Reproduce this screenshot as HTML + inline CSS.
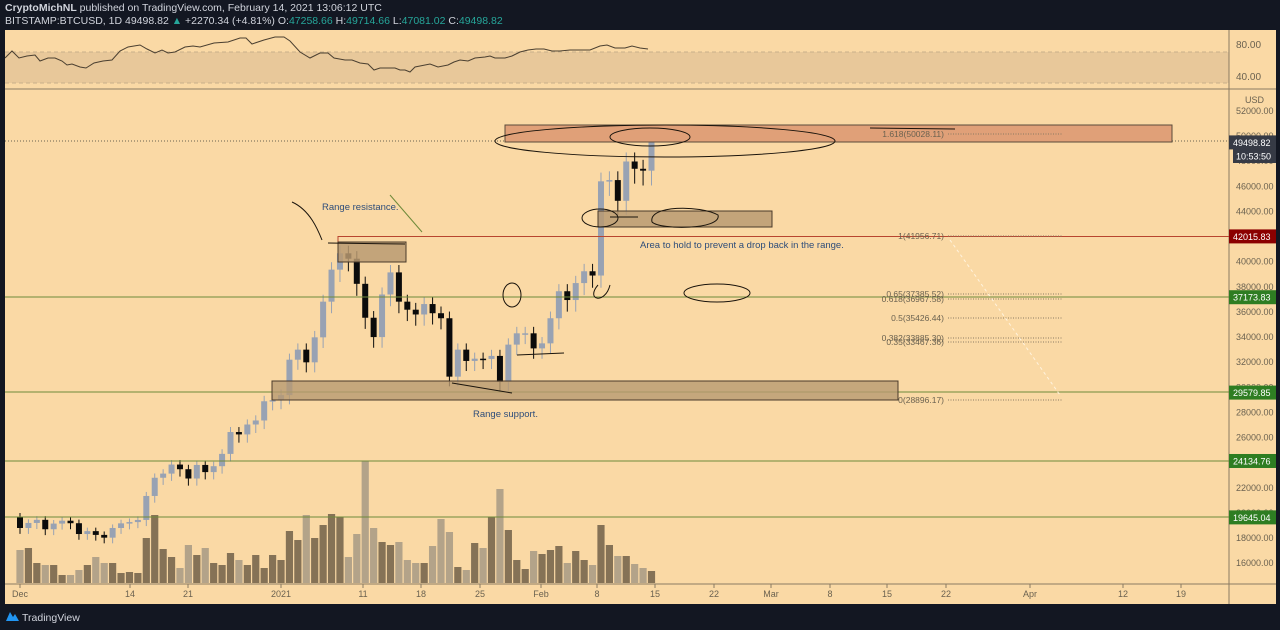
<!DOCTYPE html>
<html><head><meta charset="utf-8"><style>
html,body{margin:0;padding:0;background:#131722;width:1280px;height:630px;overflow:hidden;font-family:"Liberation Sans",sans-serif}
svg{display:block}
</style></head><body>
<svg id="s" width="1280" height="630" xmlns="http://www.w3.org/2000/svg" font-family="Liberation Sans, sans-serif">
<rect x="0" y="0" width="1280" height="630" fill="#131722"/>
<rect x="5" y="30" width="1271" height="574" fill="#fad9a5"/>
<text x="5" y="11" font-size="10.5" fill="#d1d4dc"><tspan font-weight="bold">CryptoMichNL</tspan> published on TradingView.com, February 14, 2021 13:06:12 UTC</text>
<text x="5" y="24" font-size="10.5" fill="#d1d4dc">BITSTAMP:BTCUSD, 1D 49498.82 <tspan fill="#26a69a">▲</tspan> +2270.34 (+4.81%) O:<tspan fill="#26a69a">47258.66</tspan> H:<tspan fill="#26a69a">49714.66</tspan> L:<tspan fill="#26a69a">47081.02</tspan> C:<tspan fill="#26a69a">49498.82</tspan></text>
<rect x="5" y="52" width="1224" height="31" fill="#e8c89a"/>
<line x1="5" y1="52" x2="1229" y2="52" stroke="#c8b08a" stroke-dasharray="4,3"/>
<line x1="5" y1="83" x2="1229" y2="83" stroke="#c8b08a" stroke-dasharray="4,3"/>
<line x1="5" y1="89" x2="1276" y2="89" stroke="#8a7a62" stroke-width="1"/>
<text x="1236" y="48" font-size="10" fill="#6b6250">80.00</text>
<text x="1236" y="80" font-size="10" fill="#6b6250">40.00</text>
<polyline fill="none" stroke="#4a3f30" stroke-width="1" points="5,58 12,51 19,58 27,56 35,55 40,61 48,58 55,58 62,61 67,65 72,64 80,67 86,68 94,63 103,61 112,60 120,51 128,47 140,45 147,49 155,53 162,50 168,53 175,52 185,47 193,46 200,47 214,43 228,42 240,38 246,38 252,44 264,40 275,37 284,37 290,41 300,52 310,58 320,53 328,53 334,58 345,60 352,60 360,63 368,64 374,70 380,68 395,68 400,70 405,70 410,72 415,67 430,64 438,67 448,65 454,62 460,60 468,61 475,58 485,57 490,56 495,58 505,58 512,56 520,52 528,50 536,49 544,49 552,51 560,51 570,50 580,50 590,50 600,46 607,45 615,48 625,48 632,46 640,48 648,49"/>
<line x1="1229" y1="30" x2="1229" y2="604" stroke="#8a7a62"/>
<line x1="5" y1="584" x2="1276" y2="584" stroke="#8a7a62"/>
<g id="g"></g>
<rect x="0" y="604" width="1280" height="26" fill="#131722"/>
<path d="M6 621 L10 612 L13 617 L15 614 L19 621 Z" fill="#2196f3"/>
<text x="22" y="621" font-size="10.5" fill="#d1d4dc">TradingView</text>
</svg>
<script>
const g=document.getElementById('g');let h='';
const Y=p=>111+(52000-p)*0.01256, X=d=>20+d*8.42;
const C=[19700,18800,19200,19450,18700,19150,19380,19180,18320,18550,18250,18030,18800,19170,19270,19440,21350,22800,23130,23850,23480,22740,23820,23250,23720,24700,26440,26250,27040,27360,28890,28980,29380,32200,33000,31990,33980,36820,39370,40670,40240,38240,35540,34000,37390,39150,36820,36180,35800,36630,35900,35500,30850,33000,32100,32280,32260,32500,30430,33400,34300,34300,33100,33500,35500,37650,36950,38300,39240,38900,46400,46500,44850,47980,47400,47250,49500];
const V=[33,35,20,18,18,8,8,13,18,26,20,20,10,11,10,45,68,34,26,15,38,28,35,20,18,30,23,18,28,15,28,23,52,43,68,45,58,69,66,26,49,122,55,41,38,41,23,20,20,37,64,51,16,13,40,35,66,94,53,23,14,32,29,33,37,20,32,23,18,58,38,27,27,19,15,12];
for(let d=0;d<76;d++){const o=C[d],c=C[d+1],x=X(d),up=c>=o;
 const hi=Math.max(o,c)*1.015,lo=Math.min(o,c)*0.975;
 const col=up?'#98a2b3':'#0b0b0b';
 h+=`<line x1="${x}" y1="${Y(hi)}" x2="${x}" y2="${Y(lo)}" stroke="${col}"/>`;
 const y1=Y(Math.max(o,c)),y2=Y(Math.min(o,c));
 h+=`<rect x="${x-3}" y="${y1}" width="6" height="${Math.max(1.5,y2-y1)}" fill="${col}"/>`;
 const v=V[d];
 h+=`<rect x="${x-3.6}" y="${583-v}" width="7.2" height="${v}" fill="${up?'#857256':'#b3a389'}"/>`;
}
h+=`<rect x="0" y="30" width="5" height="574" fill="#131722"/><rect x="1276" y="30" width="4" height="574" fill="#131722"/>`;
h+=`<line x1="5" y1="141" x2="1229" y2="141" stroke="#6b6250" stroke-dasharray="1,2"/>`;
h+=`<line x1="338" y1="236.5" x2="1229" y2="236.5" stroke="#b8452f"/><line x1="338" y1="236" x2="338" y2="242" stroke="#b8452f"/>`;
[297,392,461,517].forEach(y=>h+=`<line x1="5" y1="${y}" x2="1229" y2="${y}" stroke="#6f8a3a"/>`);
h+=`<rect x="505" y="125" width="667" height="17" fill="#e0a078" stroke="#5a4a3a"/>`;
h+=`<rect x="598" y="211" width="174" height="16" fill="#b89a72" fill-opacity="0.85" stroke="#4a3a2a"/>`;
h+=`<rect x="338" y="242" width="68" height="20" fill="#b89a72" fill-opacity="0.85" stroke="#4a3a2a"/>`;
h+=`<rect x="272" y="381" width="626" height="19" fill="#b89a72" fill-opacity="0.8" stroke="#4a3a2a"/>`;
const F=[[134,'1.618(50028.11)'],[236,'1(41956.71)'],[294,'0.65(37385.52)'],[299,'0.618(36967.58)'],[318,'0.5(35426.44)'],[338,'0.382(33885.30)'],[342,'0.35(33467.36)'],[400,'0(28896.17)']];
F.forEach(([y,t])=>{h+=`<line x1="948" y1="${y}" x2="1063" y2="${y}" stroke="#8a7a62" stroke-dasharray="1,1.5"/><text x="944" y="${y+3}" font-size="8.5" fill="#6b6250" text-anchor="end">${t}</text>`});
h+=`<line x1="950" y1="240" x2="1060" y2="395" stroke="#fff3de" stroke-dasharray="3,3"/>`;
const k='fill="none" stroke="#1a140c" stroke-width="1"';
h+=`<ellipse cx="665" cy="141" rx="170" ry="16" ${k}/><ellipse cx="650" cy="137" rx="40" ry="9" ${k}/><path d="M870 128 L955 129" ${k}/>`;
h+=`<ellipse cx="600" cy="218" rx="18" ry="9" ${k}/><path d="M610 217 L638 217" ${k}/><path d="M652 222 C648 205 700 205 718 215 C722 230 660 230 652 222" ${k}/>`;
h+=`<ellipse cx="512" cy="295" rx="9" ry="12" ${k}/><ellipse cx="717" cy="293" rx="33" ry="9" ${k}/><path d="M598 285 C585 300 605 305 610 285" ${k}/>`;
h+=`<path d="M292 202 C310 210 318 230 322 240" ${k}/><path d="M328 243 L405 244" ${k}/><path d="M390 195 L422 232" fill="none" stroke="#6f8a3a"/>`;
h+=`<path d="M452 383 L512 393" ${k}/><path d="M517 355 L564 353" ${k}/>`;
h+=`<text x="322" y="210" font-size="9.5" fill="#2e4d7a">Range resistance.</text>`;
h+=`<text x="640" y="248" font-size="9.5" fill="#2e4d7a">Area to hold to prevent a drop back in the range.</text>`;
h+=`<text x="473" y="417" font-size="9.5" fill="#2e4d7a">Range support.</text>`;
h+=`<text x="1245" y="103" font-size="9" fill="#6b6250">USD</text>`;
for(let v=52000;v>=16000;v-=2000){h+=`<text x="1236" y="${Y(v)+3}" font-size="9" fill="#6b6250">${v}.00</text>`}
const T=[[49498.82,'#363a45','49498.82'],[42015.83,'#8b0000','42015.83'],[37173.83,'#2e7d22','37173.83'],[29579.85,'#2e7d22','29579.85'],[24134.76,'#2e7d22','24134.76'],[19645.04,'#2e7d22','19645.04']];
T.forEach(([v,c,t])=>{const y=Y(v);h+=`<rect x="1229" y="${y-7}" width="47" height="14" fill="${c}"/><text x="1233" y="${y+3.5}" font-size="9" fill="#fff">${t}</text>`});
h+=`<rect x="1233" y="149" width="43" height="14" fill="#363a45"/><text x="1236" y="159.5" font-size="9" fill="#fff">10:53:50</text>`;
const L=[[20,'Dec'],[130,'14'],[188,'21'],[281,'2021'],[363,'11'],[421,'18'],[480,'25'],[541,'Feb'],[597,'8'],[655,'15'],[714,'22'],[771,'Mar'],[830,'8'],[887,'15'],[946,'22'],[1030,'Apr'],[1123,'12'],[1181,'19']];
L.forEach(([x,t])=>h+=`<line x1="${x}" y1="584" x2="${x}" y2="588" stroke="#8a7a62"/><text x="${x}" y="597" font-size="9" fill="#6b6250" text-anchor="middle">${t}</text>`);
g.innerHTML=h;
</script>
</body></html>
